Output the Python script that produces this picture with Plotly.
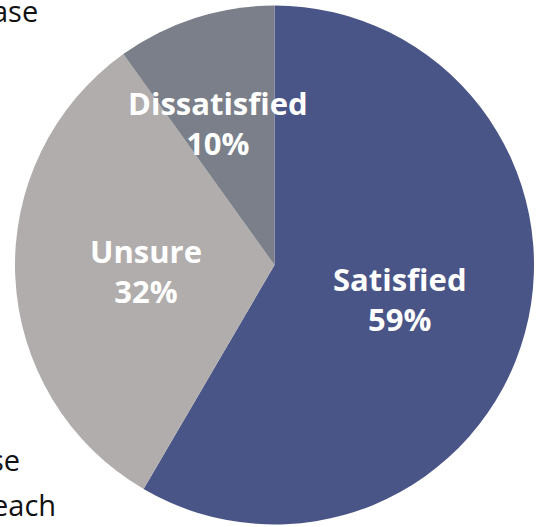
import math
import plotly.graph_objects as go

# Survey response shares
labels = ["Satisfied", "Unsure", "Dissatisfied"]
values = [59, 32, 10]
colors = ["#4a5587", "#b0adac", "#7a7f89"]

# Fragments of body text that sit to the left of the pie
side_text = ["ase", "se", "each"]

W, H = 538, 527

# Pie domain in pixels (left, right, top, bottom)
PX_L, PX_R, PX_T, PX_B = 15, 534, 5, 525

fig = go.Figure(
    go.Pie(
        labels=labels,
        values=values,
        marker=dict(colors=colors, line=dict(width=0)),
        sort=False,
        direction="clockwise",
        rotation=0,
        textinfo="none",
        hoverinfo="skip",
        showlegend=False,
        domain=dict(x=[PX_L / W, PX_R / W], y=[1 - PX_B / H, 1 - PX_T / H]),
    )
)

# Slice labels: placed along each slice's mid-angle
cx = (PX_L + PX_R) / 2
cy = (PX_T + PX_B) / 2
R = min(PX_R - PX_L, PX_B - PX_T) / 2
radial_frac = [0.503, 0.495, 0.59]
angle_nudge = [0, 0, -4]
label_font = dict(family="Open Sans", size=31, color="white", weight="bold")

total = sum(values)
start = 0.0
for lab, val, frac, nudge in zip(labels, values, radial_frac, angle_nudge):
    sweep = val / total * 360
    theta = math.radians(start + sweep / 2 + nudge)
    start += sweep
    px = cx + frac * R * math.sin(theta)
    py = cy - frac * R * math.cos(theta)
    fig.add_annotation(
        text=f"{lab}<br>{val}%",
        xref="paper", yref="paper",
        x=px / W, y=1 - py / H,
        xanchor="center", yanchor="middle",
        align="center",
        showarrow=False,
        font=label_font,
    )

# Clipped paragraph text at the left edge
side_pos = [(40, 21), (22, 470), (58, 515)]
for txt, (xr, yb) in zip(side_text, side_pos):
    fig.add_annotation(
        text=txt,
        xref="paper", yref="paper",
        x=xr / W, y=1 - yb / H,
        xanchor="right", yanchor="bottom",
        showarrow=False,
        font=dict(family="Open Sans", size=29, color="#111111"),
        yshift=-11,
    )

fig.update_layout(
    width=W, height=H,
    margin=dict(l=0, r=0, t=0, b=0),
    paper_bgcolor="white",
    plot_bgcolor="white",
)

fig.write_html("out.html")
